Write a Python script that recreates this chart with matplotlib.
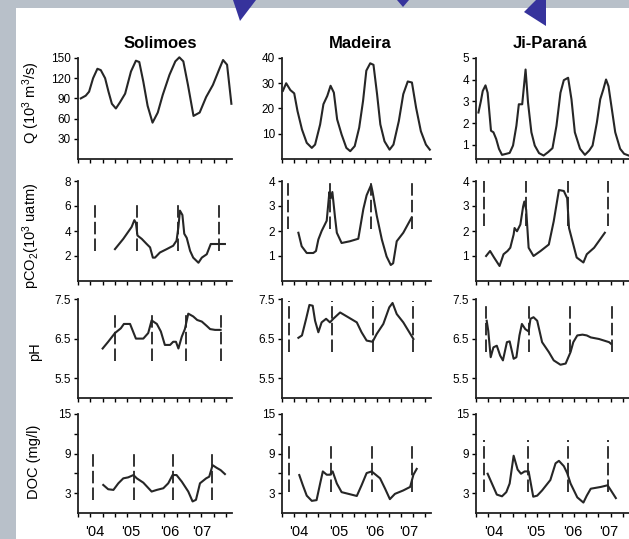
import numpy as np
import matplotlib
matplotlib.use("Agg")
import matplotlib.pyplot as plt
from matplotlib.patches import Polygon, Rectangle

# months since the start of the record (left edge of every panel)
# ---- discharge Q ----
Q_SOL_T = [0.9, 2.5, 3.6, 4.9, 6.3, 7.4, 8.8, 9.9, 11.0, 12.3, 13.6, 15.3, 17.2, 18.8, 19.9, 21.2, 22.6,
           24.2, 25.9, 27.5, 29.7, 31.6, 32.9, 34.2, 35.7, 37.5, 39.5, 41.6, 43.8, 46.0, 47.1, 48.4, 49.8]
Q_SOL = [90, 94, 100, 120, 134, 132, 120, 100, 82, 75, 84, 97, 130, 146, 144, 115, 79,
         54, 69, 95, 125, 145, 151, 145, 110, 64, 69, 92, 110, 135, 147, 140, 82]
Q_MAD_T = [0.3, 1.4, 2.8, 4.1, 5.2, 6.7, 8.3, 10.0, 11.1, 12.8, 13.9, 15.2, 16.3, 17.4, 18.5, 20.0, 21.6,
           22.9, 24.4, 25.9, 27.2, 28.3, 29.6, 30.7, 31.9, 33.0, 34.4, 36.1, 37.4, 39.2, 40.7, 42.2, 43.6,
           45.0, 46.6, 48.3, 49.6]
Q_MAD = [27, 30, 27.3, 26, 19, 11.7, 6.4, 4.4, 5.7, 13.7, 21.7, 25, 29, 26.3, 15.7, 9.7, 4.4,
         3.1, 5.1, 12.4, 23, 35, 37.9, 37.3, 25.7, 13.7, 7, 3.7, 5.7, 15, 25.7, 30.7, 30.3,
         20.3, 11, 5.7, 3.7]
Q_JIP_T = [0.8, 1.6, 2.2, 3.1, 3.8, 4.9, 5.7, 6.6, 7.5, 8.5, 9.9, 11.0, 12.1, 13.2, 14.0, 15.1, 16.2,
           17.0, 18.1, 19.2, 20.6, 22.1, 23.6, 25.0, 26.3, 27.6, 28.7, 30.1, 31.2, 32.3, 34.0, 35.6,
           37.0, 38.1, 39.5, 40.6, 41.6, 42.5, 43.3, 44.4, 45.5, 47.1, 48.4, 49.9]
Q_JIP = [2.49, 3.02, 3.48, 3.74, 3.4, 1.65, 1.58, 1.27, 0.82, 0.54, 0.59, 0.63, 0.97, 1.88, 2.87, 2.87, 4.47,
         2.95, 1.58, 0.97, 0.62, 0.51, 0.67, 0.85, 1.88, 3.4, 3.98, 4.09, 3.1, 1.58, 0.82, 0.54,
         0.74, 0.97, 2.03, 3.1, 3.55, 4.01, 3.7, 2.64, 1.58, 0.82, 0.59, 0.51]

# ---- pCO2 ----
CO2_SOL_T = [12.0, 14.7, 17.4, 18.3, 18.8, 19.3, 20.7, 22.3, 23.4, 24.3, 25.0, 26.6, 28.8, 30.9, 32.0,
             32.6, 33.1, 33.9, 34.5, 35.3, 36.4, 37.4, 39.1, 40.2, 41.8, 43.1, 44.5, 46.1, 47.7]
CO2_SOL = [2.55, 3.37, 4.32, 4.87, 4.65, 3.64, 3.37, 2.96, 2.69, 1.87, 1.87, 2.28, 2.55, 2.82, 3.23,
           4.32, 5.63, 5.28, 3.78, 3.45, 2.41, 1.87, 1.46, 1.87, 2.14, 2.96, 2.96, 2.96, 2.96]
CO2_MAD_T = [5.5, 6.6, 8.3, 10.5, 11.4, 12.2, 13.3, 15.0, 15.9, 16.3, 16.9, 17.8, 18.4, 20.0, 22.8,
             25.6, 27.3, 28.4, 29.9, 30.4, 31.8, 33.5, 35.1, 36.5, 37.3, 38.5, 40.7, 43.5]
CO2_MAD = [1.93, 1.39, 1.12, 1.12, 1.2, 1.66, 2.0, 2.41, 3.56, 3.29, 3.56, 2.54, 1.93, 1.52, 1.59,
           1.69, 2.88, 3.43, 3.84, 3.56, 2.61, 1.66, 0.98, 0.64, 0.71, 1.59, 1.93, 2.54]
CO2_JIP_T = [3.3, 4.6, 5.9, 7.7, 9.0, 10.3, 11.2, 12.3, 12.6, 13.4, 14.5, 15.4, 15.8, 16.4, 17.2,
             18.8, 21.1, 23.8, 25.4, 27.1, 28.7, 29.8, 30.4, 31.5, 32.9, 35.1, 36.2, 38.6, 42.1]
CO2_JIP = [1.0, 1.2, 0.94, 0.6, 1.07, 1.2, 1.33, 1.86, 2.12, 1.99, 2.26, 2.98, 3.18, 2.85, 1.33,
           1.0, 1.2, 1.46, 2.39, 3.64, 3.6, 3.31, 2.12, 1.6, 0.94, 0.74, 1.07, 1.33, 1.93]

# ---- pH ----
PH_SOL_T = [8.0, 9.8, 12.0, 13.9, 14.9, 16.9, 18.8, 21.2, 22.8, 23.9, 25.6, 26.9, 28.2, 29.9, 30.9,
            31.8, 32.6, 33.7, 34.7, 35.8, 37.4, 38.7, 40.2, 41.8, 42.9, 44.5, 46.3]
PH_SOL = [6.25, 6.42, 6.64, 6.76, 6.87, 6.87, 6.5, 6.5, 6.64, 6.96, 6.87, 6.68, 6.34, 6.34, 6.42,
          6.42, 6.25, 6.55, 6.74, 7.13, 7.06, 6.97, 6.93, 6.82, 6.74, 6.72, 6.72]
PH_MAD_T = [5.5, 6.7, 8.1, 9.2, 10.3, 11.1, 12.2, 13.3, 14.8, 16.1, 17.2, 19.5, 22.2, 25.1, 26.7,
            28.4, 30.4, 31.8, 34.0, 36.0, 37.1, 38.5, 40.7, 44.1]
PH_MAD = [6.52, 6.58, 7.0, 7.35, 7.33, 6.95, 6.66, 6.91, 7.0, 6.91, 7.0, 7.16, 7.04, 6.91, 6.66,
          6.45, 6.42, 6.62, 6.87, 7.29, 7.4, 7.12, 6.91, 6.49]
PH_JIP_T = [3.5, 4.0, 4.8, 5.7, 6.8, 7.9, 8.8, 10.1, 11.0, 12.3, 13.2, 14.2, 15.0, 16.1, 17.2, 17.8,
            18.8, 20.0, 21.6, 23.8, 25.4, 27.6, 29.3, 30.9, 31.8, 33.1, 34.8, 36.2, 37.5, 40.2, 43.5, 44.1]
PH_JIP = [6.95, 6.7, 6.03, 6.28, 6.32, 6.07, 5.95, 6.41, 6.43, 5.99, 6.03, 6.58, 6.87, 6.74, 6.68, 7.0,
          7.04, 6.95, 6.41, 6.16, 5.95, 5.84, 5.87, 6.16, 6.41, 6.58, 6.6, 6.58, 6.53, 6.49, 6.41, 6.37]

# ---- DOC ----
DOC_SOL_T = [8.2, 9.8, 11.5, 13.1, 14.7, 16.3, 18.0, 19.1, 21.2, 23.9, 25.6, 27.7, 29.3, 30.7, 32.0,
             33.7, 35.8, 37.2, 38.3, 39.6, 41.6, 42.6, 43.7, 45.0, 46.3, 47.7]
DOC_SOL = [4.25, 3.6, 3.5, 4.5, 5.25, 5.4, 5.75, 5.25, 4.6, 3.25, 3.5, 3.75, 4.5, 5.75, 5.75,
           4.75, 3.25, 1.75, 2.0, 4.5, 5.25, 5.5, 7.25, 6.85, 6.5, 5.9]
DOC_MAD_T = [5.8, 7.0, 8.3, 10.0, 11.6, 12.8, 13.7, 15.0, 16.1, 17.0, 18.4, 20.0, 22.3, 25.1, 26.7,
             28.4, 30.1, 32.9, 34.6, 36.2, 37.9, 40.7, 43.0, 44.1, 45.2]
DOC_MAD = [5.75, 4.2, 2.63, 1.84, 1.95, 4.47, 6.3, 5.8, 5.8, 6.3, 4.47, 3.16, 2.9, 2.58, 4.2,
           6.05, 6.3, 5.26, 3.68, 2.1, 2.9, 3.42, 3.95, 5.8, 6.68]
DOC_JIP_T = [3.8, 5.2, 6.8, 8.5, 9.9, 11.0, 12.3, 13.6, 14.7, 15.9, 17.2, 18.7, 20.0, 21.6, 24.3,
             26.0, 27.1, 28.7, 29.8, 30.9, 33.1, 35.1, 36.2, 37.5, 40.8, 43.0, 44.1, 45.7]
DOC_JIP = [5.95, 4.47, 2.79, 2.53, 3.16, 4.47, 8.68, 6.58, 5.95, 6.3, 6.3, 2.47, 2.63, 3.42, 5.0,
           7.53, 7.9, 7.1, 6.05, 4.47, 2.37, 1.58, 2.63, 3.68, 3.95, 4.2, 3.42, 2.26]

# vertical dashed markers: month positions and (low, high) extent
DASH_T = [
    [None, None, None],
    [[5.5, 19.0, 32.4, 45.8], [2.1, 16.1, 29.9, 43.5], [2.7, 16.4, 30.2, 43.3]],
    [[12.0, 23.9, 35.1, 46.4], [2.4, 16.7, 30.6, 44.1], [3.3, 17.2, 30.7, 44.4]],
    [[4.8, 18.3, 30.9, 43.6], [2.2, 16.3, 30.1, 43.5], [2.7, 17.0, 30.2, 43.3]],
]
DASH_Y = [
    [None, None, None],
    [(2.4, 6.4), (2.07, 4.0), (2.2, 4.0)],
    [(5.94, 7.16), (6.16, 7.44), (6.16, 7.42)],
    [(2.0, 9.0), (3.16, 10.5), (3.16, 11.0)],
]

RIVERS = ["Solimoes", "Madeira", "Ji-Paraná"]
YEAR_LABELS = ["'04", "'05", "'06", "'07"]
YEAR_POS = [[5.5, 17.1, 29.9, 40.2], [5.7, 18.9, 31.1, 42.6], [5.7, 19.4, 31.7, 43.4]]

SERIES = [
    [(Q_SOL_T, Q_SOL), (Q_MAD_T, Q_MAD), (Q_JIP_T, Q_JIP)],
    [(CO2_SOL_T, CO2_SOL), (CO2_MAD_T, CO2_MAD), (CO2_JIP_T, CO2_JIP)],
    [(PH_SOL_T, PH_SOL), (PH_MAD_T, PH_MAD), (PH_JIP_T, PH_JIP)],
    [(DOC_SOL_T, DOC_SOL), (DOC_MAD_T, DOC_MAD), (DOC_JIP_T, DOC_JIP)],
]
YLIMS = [
    [(0, 150), (0, 40), (0.35, 5)],
    [(0, 8), (0, 4), (0, 4)],
    [(5, 7.5), (5, 7.5), (5, 7.5)],
    [(0, 15), (0, 15), (0, 15)],
]
YTICKS = [
    [[30, 60, 90, 120, 150], [10, 20, 30, 40], [1, 2, 3, 4, 5]],
    [[2, 4, 6, 8], [1, 2, 3, 4], [1, 2, 3, 4]],
    [[5.5, 6.5, 7.5]] * 3,
    [[3, 9, 15]] * 3,
]
YLABELS = [r"Q (10$^3$ m$^3$/s)", r"pCO$_2$(10$^3$ uatm)", "pH", "DOC (mg/l)"]

# layout in pixels of the reference slide
W, H = 629, 539
COL_X = [(78, 232), (282, 431), (476, 629)]
ROW_Y = [(58, 159), (181, 281), (299, 398), (414, 513)]
XMAX = 50

plt.rcParams["font.family"] = ["Liberation Sans", "DejaVu Sans"]
plt.rcParams["mathtext.fontset"] = "custom"
plt.rcParams["mathtext.rm"] = "Liberation Sans"
plt.rcParams["mathtext.it"] = "Liberation Sans:italic"
plt.rcParams["lines.scale_dashes"] = False

LINE_C = "#262626"


def fx(x):
    return x / W


def fy(y):
    return 1 - y / H


def main():
    fig = plt.figure(figsize=(W / 100, H / 100), dpi=100, facecolor="#b8c0c9")
    fig.patches.append(Rectangle((fx(16), 0), 1 - fx(16), fy(8), transform=fig.transFigure,
                                 facecolor="white", edgecolor="none", zorder=-10))

    # slide arrows peeking in at the top
    arrows = [
        [(233, 0), (256, 0), (240, 21)],
        [(397, 0), (409, 0), (403, 7)],
        [(524, 12), (536, 0), (546, 0), (546, 26)],
    ]
    for pts in arrows:
        fig.patches.append(Polygon([(fx(x), fy(y)) for x, y in pts], closed=True,
                                   transform=fig.transFigure, facecolor="#36339c",
                                   edgecolor="none", zorder=-5))

    for r in range(4):
        for c in range(3):
            x0, x1 = COL_X[c]
            y0, y1 = ROW_Y[r]
            ax = fig.add_axes([fx(x0), fy(y1), (x1 - x0) / W, (y1 - y0) / H])
            ax.set_facecolor("none")
            t, v = SERIES[r][c]
            ax.plot(t, v, color=LINE_C, lw=1.5, solid_joinstyle="round", clip_on=False, zorder=3)

            if DASH_T[r][c] is not None:
                lo, hi = DASH_Y[r][c]
                for d in DASH_T[r][c]:
                    ax.plot([d, d], [lo, hi], color="#111111", lw=1.2, dashes=(9, 3), zorder=2)

            ax.set_xlim(0, XMAX)
            ax.set_ylim(*YLIMS[r][c])
            ax.set_yticks(YTICKS[r][c])
            ax.set_yticklabels([f"{v:g}" for v in YTICKS[r][c]])
            if r == 3:
                ax.set_yticks([6, 12], minor=True)
            ax.set_xticks(np.arange(0, XMAX, 4), minor=True)
            if r == 3:
                ax.set_xticks(YEAR_POS[c])
                ax.set_xticklabels(YEAR_LABELS, fontsize=10.5)
            else:
                ax.set_xticks([])
            ax.tick_params(axis="x", which="major", length=0, pad=9)
            ax.tick_params(axis="x", which="minor", length=3, width=1.0, direction="out")
            ax.tick_params(axis="y", which="both", length=3, width=1.0, direction="out",
                           labelsize=8.5, pad=2)

            for s in ("top", "right"):
                ax.spines[s].set_visible(False)
            for s in ("left", "bottom"):
                ax.spines[s].set_linewidth(1.3)
                ax.spines[s].set_color("#222222")

    # column titles
    title_pos = [(160, 43), (360, 43), (550, 44)]
    for name, (x, y) in zip(RIVERS, title_pos):
        fig.text(fx(x), fy(y), name, ha="center", va="center", fontsize=12, fontweight="bold")

    # row labels
    label_pos = [(31, 103), (31, 236), (35, 352), (34, 462)]
    for lab, (x, y) in zip(YLABELS, label_pos):
        fig.text(fx(x), fy(y), lab, rotation=90, ha="center", va="center", fontsize=10.5)

    fig.savefig("out.png", dpi=100, facecolor=fig.get_facecolor())
    plt.close(fig)


if __name__ == "__main__":
    main()
